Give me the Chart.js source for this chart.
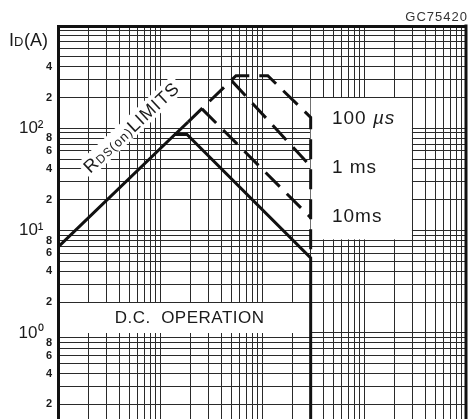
<!DOCTYPE html>
<html><head><meta charset="utf-8">
<script src="https://cdn.jsdelivr.net/npm/chart.js@4.4.1/dist/chart.umd.min.js"></script>
<style>html,body{margin:0;padding:0;background:#fff;overflow:hidden}</style>
</head><body>
<canvas id="c" width="470" height="419"></canvas>
<script>
// ---- axis grid / tick data ----
const xGridValues = [1,2,3,4,5,6,7,8,9,10,20,30,40,50,60,70,80,90,100,200,300,400,500,600,700,800,900,1000,2000,3000,4000,5000,6000,7000,8000,9000,10000];
const yGridValues = [0.2,0.3,0.4,0.5,0.6,0.7,0.8,0.9,1,2,3,4,5,6,7,8,9,10,20,30,40,50,60,70,80,90,100,200,300,400,500,600,700,800,900,1000];
const yLabelValues = [0.2,0.4,0.6,0.8,1,2,4,6,8,10,20,40,60,80,100,200,400];
const yLabelTexts = ['2','4','6','8','10\u2070','2','4','6','8','10\u00b9','2','4','6','8','10\u00b2','2','4'];
const decadeValues = [1,10,100];

// ---- series (V_DS in V, I_D in A) ----
const dcVoltage    = [1, 14, 18.4, 300, 300];
const dcCurrent    = [6.9, 87, 87, 5.4, 0.1];
const rdsVoltage   = [14, 18.8];
const rdsCurrent   = [87, 115];
const us100Voltage = [18.8, 55.6, 114, 300, 300];
const us100Current = [115, 326, 326, 128, 5.4];
const ms1Voltage   = [50.8, 300];
const ms1Current   = [289, 42.4];
const ms10Voltage  = [25.8, 300];
const ms10Current  = [155, 13.4];

const pts = (xs, ys) => xs.map((x, i) => ({x: x, y: ys[i]}));
const FONT = "'Liberation Sans', Arial, Helvetica, sans-serif";
const INK = '#111';

function lineDs(label, xs, ys, dashed) {
  return {
    label: label, data: pts(xs, ys), borderColor: INK, borderWidth: 3,
    pointRadius: 0, fill: false, tension: 0, borderJoinStyle: 'miter',
    borderCapStyle: 'butt', borderDash: dashed ? [20, 10] : []
  };
}

const annotations = {
  id: 'annotations',
  beforeDatasetsDraw(chart) {
    const {ctx, chartArea: a, scales: {x, y}} = chart;
    ctx.save();
    ctx.fillStyle = '#fff';
    // D.C. OPERATION box (between 1 A and 2 A, up to 300 V)
    const x300 = x.getPixelForValue(300);
    const yTop = Math.round(y.getPixelForValue(2)) + 1;
    const yBot = Math.round(y.getPixelForValue(1));
    ctx.fillRect(a.left + 2, yTop, x300 - a.left - 2, yBot - yTop);
    // pulse label box
    const bx0 = x300, bx1 = x.getPixelForValue(2950);
    const by0 = Math.round(y.getPixelForValue(200)) + 1, by1 = y.getPixelForValue(8.2);
    ctx.fillRect(bx0, by0, bx1 - bx0, by1 - by0);

    ctx.fillStyle = '#1a1a1a';
    ctx.textBaseline = 'middle';
    ctx.textAlign = 'center';
    ctx.letterSpacing = '0.5px';
    ctx.font = '17px ' + FONT;
    ctx.fillText('D.C.  OPERATION', x.getPixelForValue(19.5), y.getPixelForValue(1.4));

    ctx.textAlign = 'left';
    ctx.letterSpacing = '1px';
    const lx = x.getPixelForValue(485);
    ctx.font = '19px ' + FONT;
    const t100 = '100 ';
    ctx.fillText(t100, lx, y.getPixelForValue(124));
    const w100 = ctx.measureText(t100).width;
    ctx.font = 'italic 19px ' + FONT;
    ctx.fillText('\u00b5s', lx + w100, y.getPixelForValue(124));
    ctx.font = '19px ' + FONT;
    ctx.fillText('1 ms', lx, y.getPixelForValue(41.5));
    ctx.fillText('10ms', lx, y.getPixelForValue(13.6));

    // RDS(on) LIMITS rotated label
    const cx = x.getPixelForValue(5.2), cy = y.getPixelForValue(103);
    ctx.translate(cx, cy);
    ctx.rotate(-43 * Math.PI / 180);
    const segs = [['R', 18], ['DS', 12], ['(on)', 13], ['LIMITS', 18]];
    ctx.letterSpacing = '1px';
    let total = 0;
    const widths = segs.map(s => { ctx.font = s[1] + 'px ' + FONT; const w = ctx.measureText(s[0]).width; total += w; return w; });
    ctx.fillStyle = '#fff';
    ctx.fillRect(-total / 2 - 3, -10, total + 6, 20);
    ctx.fillStyle = '#1a1a1a';
    ctx.textBaseline = 'alphabetic';
    let px = -total / 2;
    segs.forEach((s, i) => { ctx.font = s[1] + 'px ' + FONT; ctx.fillText(s[0], px, 6.5); px += widths[i]; });
    ctx.restore();
  },
  afterDraw(chart) {
    const {ctx, chartArea: a} = chart;
    ctx.save();
    // right frame line
    ctx.strokeStyle = INK; ctx.lineWidth = 3;
    ctx.beginPath(); ctx.moveTo(a.right, a.top - 1.5); ctx.lineTo(a.right, a.bottom); ctx.stroke();
    // axis title I_D(A)
    ctx.fillStyle = '#1a1a1a';
    ctx.textBaseline = 'alphabetic';
    ctx.textAlign = 'left';
    let tx = 9;
    ctx.font = '18px ' + FONT; ctx.fillText('I', tx, 46); tx += ctx.measureText('I').width;
    ctx.font = '13px ' + FONT; ctx.fillText('D', tx, 46); tx += ctx.measureText('D').width + 0.5;
    ctx.font = '18px ' + FONT; ctx.fillText('(A)', tx, 46);
    // figure code
    ctx.font = '13px ' + FONT;
    ctx.fillStyle = '#333';
    ctx.textAlign = 'right';
    ctx.letterSpacing = '1px';
    ctx.fillText('GC75420', 468, 21);
    ctx.restore();
  }
};

new Chart(document.getElementById('c'), {
  type: 'line',
  data: {
    datasets: [
      lineDs('D.C. OPERATION', dcVoltage, dcCurrent, false),
      lineDs('RDS(on) LIMITS', rdsVoltage, rdsCurrent, false),
      lineDs('100 \u00b5s', us100Voltage, us100Current, true),
      lineDs('1 ms', ms1Voltage, ms1Current, true),
      lineDs('10 ms', ms10Voltage, ms10Current, true)
    ]
  },
  options: {
    responsive: false,
    animation: false,
    events: [],
    layout: {padding: {left: 0, right: 4, top: 26, bottom: 0}},
    plugins: {legend: {display: false}, tooltip: {enabled: false}, title: {display: false}},
    scales: {
      x: {
        type: 'logarithmic', position: 'top', min: 1, max: 10000,
        afterBuildTicks: s => { s.ticks = xGridValues.map(v => ({value: v})); },
        afterFit: s => { s.height = 0; s.paddingLeft = 0; s.paddingRight = 0; s.paddingTop = 0; s.paddingBottom = 0; },
        ticks: {display: false},
        grid: {color: '#2a2a2a', lineWidth: 1, drawTicks: false},
        border: {display: true, color: INK, width: 3}
      },
      y: {
        type: 'logarithmic', min: 0.1438, max: 1000,
        afterBuildTicks: s => { s.ticks = yGridValues.map(v => ({value: v})); },
        afterFit: s => { s.width = 58; s.paddingTop = 0; s.paddingBottom = 0; s.paddingLeft = 0; s.paddingRight = 0; },
        ticks: {
          autoSkip: false, padding: 6, color: '#1a1a1a',
          callback: v => {
            const i = yLabelValues.indexOf(v);
            if (i < 0) return '';
            return decadeValues.includes(v) ? yLabelTexts[i] + '\u2002' : yLabelTexts[i];
          },
          font: c => (c.tick && decadeValues.includes(c.tick.value))
            ? {family: FONT, size: 17, weight: 'normal'}
            : {family: FONT, size: 11, weight: 'bold'}
        },
        grid: {color: '#2a2a2a', lineWidth: 1, drawTicks: false},
        border: {display: true, color: INK, width: 3}
      }
    }
  },
  plugins: [annotations]
});
</script>
</body></html>
